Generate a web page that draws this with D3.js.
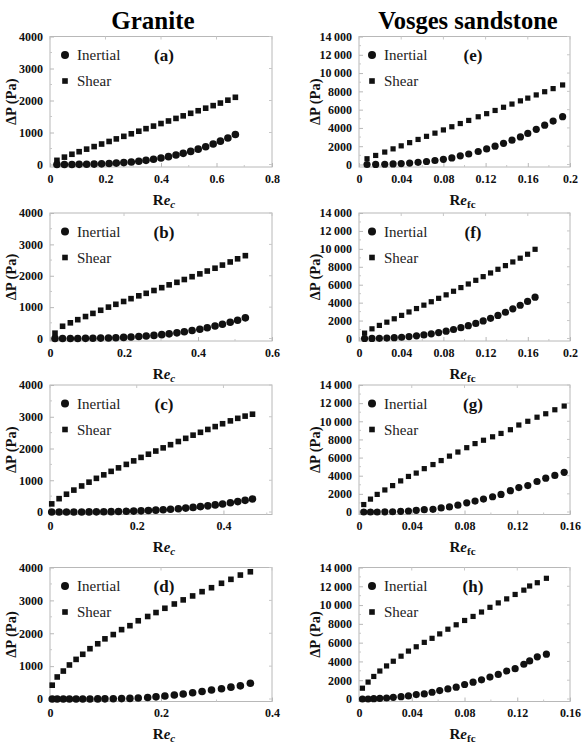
<!DOCTYPE html>
<html><head><meta charset="utf-8">
<script src="https://cdn.jsdelivr.net/npm/d3@7/dist/d3.min.js"></script>
<style>body{margin:0;background:#fff}svg{display:block}</style>
</head><body>
<svg id="c" width="585" height="744"></svg>
<script>
// ---------- data ----------
const columnTitles = ["Granite", "Vosges sandstone"];
const panelLetters = ["(a)","(b)","(c)","(d)","(e)","(f)","(g)","(h)"];
const legendLabels = ["Inertial", "Shear"];

const leftYTicks = [0, 1000, 2000, 3000, 4000];
const rightYTicks = [0, 2000, 4000, 6000, 8000, 10000, 12000, 14000];
const xTicksA = [0, 0.2, 0.4, 0.6, 0.8];
const xTicksB = [0, 0.2, 0.4, 0.6];
const xTicksC = [0, 0.2, 0.4];
const xTicksD = [0, 0.2, 0.4];
const xTicksEF = [0, 0.04, 0.08, 0.12, 0.16, 0.2];
const xTicksGH = [0, 0.04, 0.08, 0.12, 0.16];

const aX = [0.025,0.052,0.079,0.105,0.132,0.159,0.186,0.213,0.239,0.266,0.293,0.32,0.346,0.373,0.4,0.427,0.454,0.48,0.507,0.534,0.561,0.588,0.614,0.641,0.668];
const aShear = [130,230,320,400,480,560,640,720,800,880,960,1040,1120,1200,1280,1360,1440,1520,1600,1680,1760,1840,1920,2010,2100];
const aInertial = [0,0,2,4,7,13,20,30,43,59,79,103,130,163,202,245,295,348,410,480,556,640,729,830,939];

const bX = [0.0135,0.034,0.055,0.075,0.096,0.116,0.137,0.158,0.178,0.199,0.219,0.24,0.26,0.281,0.302,0.322,0.343,0.363,0.384,0.405,0.425,0.446,0.466,0.487,0.507,0.528];
const bShear = [170,390,500,600,700,800,900,1000,1090,1180,1270,1360,1440,1530,1620,1710,1790,1880,1970,2060,2150,2240,2340,2440,2540,2640];
const bInertial = [0,0,1,2,4,7,12,18,25,35,47,62,79,99,123,149,180,214,253,297,343,397,452,516,583,658];

const cX = [0.004,0.021,0.038,0.055,0.073,0.09,0.107,0.124,0.141,0.158,0.176,0.193,0.21,0.227,0.244,0.261,0.278,0.296,0.313,0.33,0.347,0.364,0.381,0.398,0.416,0.433,0.45,0.467];
const cShear = [256,420,560,690,820,940,1060,1170,1280,1390,1500,1610,1720,1820,1920,2020,2120,2220,2320,2420,2510,2600,2690,2780,2870,2950,3020,3080];
const cInertial = [0,0,0,1,2,3,5,8,11,16,22,29,37,47,58,72,86,104,123,145,168,194,223,254,290,327,367,410];

const dX = [0.004,0.013,0.024,0.035,0.047,0.059,0.072,0.086,0.099,0.114,0.129,0.144,0.159,0.176,0.191,0.207,0.224,0.24,0.257,0.274,0.291,0.309,0.326,0.343,0.361];
const dShear = [420,670,850,1035,1205,1360,1530,1680,1830,1960,2110,2230,2380,2510,2630,2760,2890,3015,3135,3265,3385,3520,3640,3770,3870];
const dInertial = [0,0,0,0,0,0,2,3,5,8,12,18,30,45,65,90,120,150,190,230,275,310,360,400,480];

const eX = [0.0076,0.0158,0.0244,0.0323,0.04,0.048,0.056,0.064,0.072,0.08,0.088,0.096,0.104,0.113,0.121,0.129,0.137,0.145,0.153,0.16,0.168,0.176,0.184,0.193];
const eShear = [630,990,1360,1710,2040,2390,2740,3080,3430,3780,4130,4480,4820,5220,5560,5910,6260,6610,6960,7260,7610,7960,8300,8700];
const eInertial = [0,10,30,60,100,160,240,330,440,570,720,950,1150,1420,1700,2000,2320,2660,3020,3400,3850,4300,4750,5230];

const fX = [0.0053,0.0123,0.0193,0.0264,0.0334,0.0404,0.0474,0.0545,0.0615,0.0685,0.0755,0.0826,0.0896,0.0966,0.1036,0.1107,0.1177,0.1247,0.1317,0.1388,0.1458,0.1528,0.1598,0.1669];
const fShear = [600,1080,1460,1820,2200,2580,2960,3340,3720,4100,4480,4870,5270,5680,6080,6490,6900,7310,7720,8130,8540,8960,9400,9950];
const fInertial = [1,8,23,50,90,142,211,296,399,519,659,821,1003,1207,1432,1685,1957,2254,2576,2930,3305,3708,4140,4607];

const gX = [0.0036,0.0087,0.0138,0.0196,0.0255,0.0316,0.0375,0.0434,0.0495,0.0561,0.0623,0.0686,0.075,0.0817,0.088,0.0944,0.1013,0.1077,0.1148,0.1212,0.128,0.135,0.1416,0.1485,0.1556];
const gShear = [820,1420,1940,2430,2910,3430,3920,4290,4780,5230,5670,6160,6610,7090,7540,7910,8290,8660,9070,9590,10000,10450,10830,11270,11680];
const gInertial = [0,0,0,20,30,75,110,190,260,300,450,560,750,1010,1200,1420,1680,1940,2350,2690,2910,3360,3730,4030,4370];

const hX = [0.0026,0.0069,0.0112,0.0158,0.0209,0.026,0.0319,0.0375,0.0434,0.0495,0.0554,0.0612,0.0674,0.0737,0.0801,0.0865,0.0929,0.0993,0.1056,0.112,0.1184,0.125,0.1294,0.1352,0.1421];
const hShear = [1150,1800,2400,2980,3520,4020,4560,5100,5560,6030,6460,6930,7430,7900,8360,8790,9260,9760,10230,10660,11130,11590,12030,12380,12850];
const hInertial = [0,0,36,72,108,179,251,323,467,538,718,897,1077,1256,1543,1795,2046,2333,2620,2979,3230,3697,4056,4487,4774];

// ---------- layout ----------
const FONT = "'Liberation Serif','Times New Roman',serif";
const rows = [{top:36.5, zero:164.5},{top:213,zero:338.5},{top:385,zero:512},{top:567.5,zero:699}];
const cols = [{x0:50, x1:272, ymax:4000, yTicks:leftYTicks, sub:"c", subItalic:true},
              {x0:359, x1:570, ymax:14000, yTicks:rightYTicks, sub:"fc", subItalic:false}];

const panels = [
  {col:0,row:0,xmax:0.8, xt:xTicksA, xs:aX, sh:aShear, in:aInertial},
  {col:0,row:1,xmax:0.6, xt:xTicksB, xs:bX, sh:bShear, in:bInertial},
  {col:0,row:2,xmax:0.512, xt:xTicksC, xs:cX, sh:cShear, in:cInertial},
  {col:0,row:3,xmax:0.4, xt:xTicksD, xs:dX, sh:dShear, in:dInertial},
  {col:1,row:0,xmax:0.2, xt:xTicksEF, xs:eX, sh:eShear, in:eInertial},
  {col:1,row:1,xmax:0.2, xt:xTicksEF, xs:fX, sh:fShear, in:fInertial},
  {col:1,row:2,xmax:0.16, xt:xTicksGH, xs:gX, sh:gShear, in:gInertial},
  {col:1,row:3,xmax:0.16, xt:xTicksGH, xs:hX, sh:hShear, in:hInertial}
];
const letterOrder = [0,1,2,3,4,5,6,7];

const svg = d3.select("#c");
svg.append("rect").attr("width",585).attr("height",744).attr("fill","#fff");

// column titles
svg.append("text").attr("x",153).attr("y",29).attr("text-anchor","middle")
  .attr("font-family",FONT).attr("font-weight","bold").attr("font-size",25).text(columnTitles[0]);
svg.append("text").attr("x",468).attr("y",29).attr("text-anchor","middle")
  .attr("font-family",FONT).attr("font-weight","bold").attr("font-size",24.5).text(columnTitles[1]);

const fmtY = v => v >= 10000 ? d3.format("d")(Math.floor(v/1000)) + "\u2009" + "000" : String(v);
const fmtX = v => v === 0 ? "0" : String(+v.toFixed(2));

panels.forEach((p, i) => {
  const c = cols[p.col], r = rows[p.row];
  const bottom = r.zero + 2.5;
  const x = d3.scaleLinear().domain([0, p.xmax]).range([c.x0, c.x1]);
  const y = d3.scaleLinear().domain([0, c.ymax]).range([r.zero, r.top]);
  const g = svg.append("g");

  // frame
  g.append("rect").attr("x",c.x0).attr("y",r.top).attr("width",c.x1-c.x0).attr("height",bottom-r.top)
    .attr("fill","none").attr("stroke","#b8b8b8").attr("stroke-width",1);

  // y axis via d3 axis (ticks inside)
  const yAx = d3.axisLeft(y).tickValues(c.yTicks).tickSize(-4).tickPadding(7).tickFormat(fmtY);
  const ya = g.append("g").attr("transform",`translate(${c.x0},0)`).call(yAx);
  ya.select(".domain").remove();
  ya.selectAll("line").attr("stroke","#b8b8b8");
  ya.selectAll("text").attr("font-family",FONT).attr("font-weight","bold").attr("font-size",12).attr("fill","#111");
  // minor y ticks
  const yMinor = d3.range(0, c.ymax, c.yTicks[1]/2).filter(v => !c.yTicks.includes(v));
  g.selectAll(null).data(yMinor).join("line")
    .attr("x1",c.x0).attr("x2",c.x0+2).attr("y1",d=>y(d)).attr("y2",d=>y(d)).attr("stroke","#c8c8c8");
  // right side ticks
  g.selectAll(null).data(c.yTicks).join("line")
    .attr("x1",c.x1).attr("x2",c.x1-3).attr("y1",d=>y(d)).attr("y2",d=>y(d)).attr("stroke","#c8c8c8");

  // x axis
  const xAx = d3.axisBottom(x).tickValues(p.xt).tickSize(-4).tickPadding(7).tickFormat(fmtX);
  const xa = g.append("g").attr("transform",`translate(0,${bottom})`).call(xAx);
  xa.select(".domain").remove();
  xa.selectAll("line").attr("stroke","#b8b8b8");
  xa.selectAll("text").attr("font-family",FONT).attr("font-weight","bold").attr("font-size",12).attr("fill","#111");
  const xStep = p.xt[1]-p.xt[0];
  const xMinor = d3.range(xStep/2, p.xmax, xStep).filter(v => v < p.xmax - 1e-9);
  g.selectAll(null).data(xMinor).join("line")
    .attr("x1",d=>x(d)).attr("x2",d=>x(d)).attr("y1",bottom).attr("y2",bottom-2).attr("stroke","#c8c8c8");
  g.selectAll(null).data(p.xt.filter(v=>v<=p.xmax)).join("line")
    .attr("x1",d=>x(d)).attr("x2",d=>x(d)).attr("y1",r.top).attr("y2",r.top+3).attr("stroke","#c8c8c8");

  // y label
  const ylx = p.col === 0 ? c.x0 - 39 : c.x0 - 44;
  g.append("text").attr("transform",`translate(${ylx},${(r.top+bottom)/2}) rotate(-90)`)
    .attr("text-anchor","middle").attr("dominant-baseline","central")
    .attr("font-family",FONT).attr("font-weight","bold").attr("font-size",14.5).attr("fill","#111")
    .text("\u0394P (Pa)");

  // x label
  const xl = g.append("text").attr("x",(c.x0+c.x1)/2 + (p.col===0?3:-2)).attr("y",bottom+37.5)
    .attr("text-anchor","middle").attr("font-family",FONT).attr("font-weight","bold").attr("font-size",15).attr("fill","#111");
  xl.append("tspan").text("R");
  xl.append("tspan").attr("font-style","italic").text("e");
  xl.append("tspan").attr("dy",3).attr("font-size",11).attr("font-style",c.subItalic?"italic":"normal").text(c.sub);

  // data: shear squares
  const sq = p.col === 0 ? 5.6 : 5.2;
  g.selectAll(null).data(p.xs.map((v,k)=>[v,p.sh[k]])).join("rect")
    .attr("x",d=>x(d[0])-sq/2).attr("y",d=>y(d[1])-sq/2).attr("width",sq).attr("height",sq).attr("fill","#111");
  // inertial circles
  const rr = p.col === 0 ? 3.8 : 3.6;
  g.selectAll(null).data(p.xs.map((v,k)=>[v,p.in[k]])).join("circle")
    .attr("cx",d=>x(d[0])).attr("cy",d=>y(d[1])).attr("r",rr).attr("fill","#111");

  // legend
  const lx = c.x0 + (p.col===0 ? 15 : 13);
  g.append("circle").attr("cx",lx).attr("cy",r.top+18.5).attr("r",4).attr("fill","#111");
  g.append("rect").attr("x",lx-2.8).attr("y",r.top+44.5-2.8).attr("width",5.6).attr("height",5.6).attr("fill","#111");
  g.append("text").attr("x",lx+12).attr("y",r.top+23.5).attr("font-family",FONT).attr("font-size",15).attr("fill","#222").text(legendLabels[0]);
  g.append("text").attr("x",lx+12).attr("y",r.top+49.5).attr("font-family",FONT).attr("font-size",15).attr("fill","#222").text(legendLabels[1]);
  g.append("text").attr("x",c.x0+114).attr("y",r.top+24.5).attr("text-anchor","middle")
    .attr("font-family",FONT).attr("font-weight","bold").attr("font-size",17).attr("fill","#111").text(panelLetters[letterOrder[i]]);
});
</script>
</body></html>
